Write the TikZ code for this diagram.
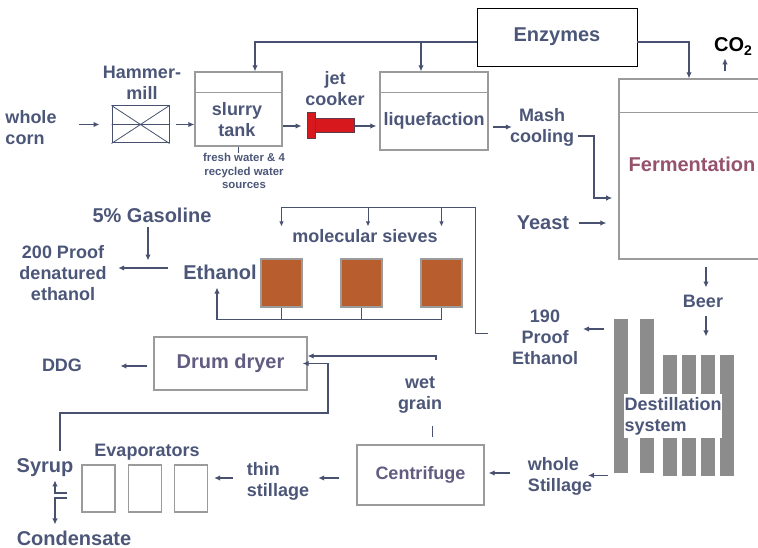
\documentclass[tikz,border=0pt]{standalone}
\usepackage{fontspec}
\setmainfont{Liberation Sans}
\usetikzlibrary{arrows.meta, positioning, calc}
\definecolor{flowblue}{RGB}{72, 82, 112}
\definecolor{textblue}{RGB}{76, 86, 120}
\definecolor{textmauve}{RGB}{98, 92, 128}
\definecolor{fermred}{RGB}{150, 82, 108}
\definecolor{sievebrown}{RGB}{184, 94, 46}
\definecolor{jetred}{RGB}{215, 25, 30}
\definecolor{jetedge}{RGB}{95, 60, 75}
\definecolor{colgray}{RGB}{140, 140, 140}
\definecolor{boxgray}{RGB}{155, 155, 155}

\tikzset{
  lbl/.style={text=textblue, font=\fontsize{18}{21}\selectfont\bfseries, align=center, inner sep=0pt},
  biglbl/.style={lbl, font=\fontsize{20}{24}\selectfont\bfseries},
  note/.style={lbl, font=\fontsize{11.4}{13.5}\selectfont\bfseries},
  flow/.style={draw=flowblue, line width=1.5pt, -{Latex[length=6pt,width=5.5pt]}},
  thinflow/.style={draw=flowblue, line width=0.9pt, -{Latex[length=5pt,width=4.5pt]}},
  thinline/.style={draw=flowblue, line width=0.9pt},
  tank/.style={draw=boxgray, line width=1.3pt, fill=white, inner sep=0pt},
  divider/.style={draw=boxgray, line width=1.3pt},
  column/.style={fill=colgray, minimum width=14pt, inner sep=0pt, anchor=north west},
  sieve/.style={fill=sievebrown, draw=boxgray, line width=1.2pt, minimum width=41pt, minimum height=48pt},
  jetpart/.style={fill=jetred, draw=jetedge, line width=1pt, inner sep=0pt}
}

\begin{document}
\begin{tikzpicture}[x=1pt, y=-1pt]
  \useasboundingbox (0,0) rectangle (758,548);

  % 原料与粉碎
  \node[lbl, align=left] (corn) at (31,128) {whole\\corn};
  \node[lbl] (millTxt) at (142,83) {Hammer-\\mill};
  \node[draw=flowblue, line width=1pt, minimum width=57pt, minimum height=37pt, inner sep=0pt] (mill) at (140.5,124.5) {};
  \draw[flowblue, line width=0.8pt] (mill.north west) -- (mill.south east)
    (mill.south west) -- (mill.north east) (mill.west) -- (mill.east);

  % 浆料罐
  \node[tank, minimum width=87pt, minimum height=74pt] (slurry) at (238.5,109) {};
  \draw[divider] ($(slurry.north west)+(0,21)$) -- ($(slurry.north east)+(0,21)$);
  \node[lbl] (slurryTxt) at (237,120) {slurry\\tank};
  \node[note] (water) at (244,171) {fresh water \& 4\\recycled water\\sources};
  \draw[thinline] (slurry.south) -- ++(0,6);

  % 喷射蒸煮器
  \node[jetpart, minimum width=39pt, minimum height=14pt] (jetB) at (334.5,126) {};
  \node[jetpart, minimum width=8pt, minimum height=26pt] (jetA) at (311,126) {};
  \node[lbl] (jetTxt) at (335,89) {jet\\cooker};

  % 液化
  \node[tank, minimum width=108pt, minimum height=78pt] (liq) at (434,111) {};
  \draw[divider] ($(liq.north west)+(0,21)$) -- ($(liq.north east)+(0,21)$);
  \node[lbl] (liqTxt) at (434,121) {liquefaction};
  \node[lbl] (mash) at (542,127) {Mash\\cooling};

  % 酶
  \node[draw=black, line width=0.8pt, minimum width=160pt, minimum height=58pt, biglbl] (enz) at (557,37) {Enzymes};

  % 发酵
  \node[tank, minimum width=181pt, minimum height=180pt] (ferm) at (709.5,169) {};
  \draw[divider] ($(ferm.north west)+(0,34)$) -- ($(ferm.north east)+(0,34)$);
  \node[biglbl, text=fermred] (fermTxt) at (692,164) {Fermentation};
  \node[biglbl, text=black, anchor=base west] (co2) at (714,52) {CO\textsubscript{2}};
  \node[biglbl] (yeast) at (543,223) {Yeast};
  \node[lbl] (beer) at (703,301) {Beer};

  % 蒸馏塔
  \foreach \i/\xa/\ya/\h in {1/614/319/154, 2/640/319/154, 3/663/355/121, 4/682/355/121, 5/701/355/121, 6/720/355/121}
    \node[column, minimum height=\h pt] (c\i) at (\xa,\ya) {};
  \node[lbl, fill=white, align=left, text width=97pt, inner sep=0.5pt, minimum height=44pt] (dest) at (673,416) {Destillation\\system};
  \node[lbl] (proof) at (545,337) {190\\Proof\\Ethanol};
  \node[lbl, align=left] (still) at (560,476) {whole\\Stillage};

  % 离心与干燥
  \node[tank, minimum width=127pt, minimum height=60pt, lbl, text=textmauve] (cent) at (420.5,475) {Centrifuge};
  \node[lbl] (wet) at (420,395) {wet\\grain};
  \node[tank, minimum width=153pt, minimum height=53pt, biglbl, text=textmauve] (dryer) at (230.5,363.5) {Drum dryer};
  \node[lbl] (ddg) at (62,365) {DDG};

  % 蒸发器
  \foreach \i/\x in {1/98.5, 2/145, 3/191}
    \node[tank, minimum width=33pt, minimum height=47pt] (ev\i) at (\x,488.5) {};
  \node[lbl] (evapTxt) at (147,452) {Evaporators};
  \node[lbl, align=left] (thin) at (278,481) {thin\\stillage};
  \node[biglbl, anchor=base] (syrup) at (45,472) {Syrup};
  \node[biglbl] (cond) at (74,538) {Condensate};

  % 分子筛
  \node[biglbl] (gas) at (152,215) {5\% Gasoline};
  \node[lbl] (denat) at (63,273) {200 Proof\\denatured\\ethanol};
  \node[biglbl] (eth) at (220,272) {Ethanol};
  \foreach \i/\x in {1/281.5, 2/361.5, 3/441.5}
    \node[sieve] (s\i) at (\x,283) {};
  \node[lbl] (sieveTxt) at (365,236) {molecular sieves};

  % 主流程
  \draw[flow, shorten <=22pt, shorten >=12pt] (corn.east |- mill) -- (mill.west);
  \draw[flow, shorten <=6pt] (mill.east) -- (mill.east -| slurry.west);
  \draw[flow, shorten >=5pt] (slurry.east |- jetA) -- (jetA.west);
  \draw[flow, shorten >=3pt] (jetB.east) -- (jetB.east -| liq.west);
  \draw[flow, shorten <=4pt, shorten >=-2pt] (liq.east |- mash) -- (mash.west);
  \draw[flow] ([xshift=4pt,yshift=-9pt]mash.east) -- ++(16,0) -- ++(0,62) -- ++(18,0);
  \draw[flow, shorten <=10pt, shorten >=12pt] (yeast.east) -- (yeast.east -| ferm.west);

  % 酶的加入
  \coordinate (ez) at ([yshift=-5pt]enz.west);
  \draw[flow] (ez) -| ([xshift=16.5pt]slurry.north);
  \draw[flow] (ez) -| ([xshift=-13pt]liq.north);
  \draw[flow] ([yshift=-5pt]enz.east) -| ([xshift=-20.5pt]ferm.north);
  \draw[flow] ([xshift=15.5pt,yshift=7pt]ferm.north) -- ++(0,-13);

  % 啤酒与蒸馏
  \draw[flow] ([xshift=3pt,yshift=-7pt]beer.north |- ferm.south) -- ([xshift=3pt,yshift=7pt]beer.north);
  \draw[flow] ([xshift=3pt,yshift=-9pt]beer.south) -- ++(0,20);
  \draw[flow] ([xshift=-10pt,yshift=-10pt]c1.north west) -- ++(-21,0);
  \draw[flow] ([xshift=-6pt,yshift=-2pt]c1.south west) -- ++(-20,0);
  \draw[flow, shorten <=18pt, shorten >=4pt] ([yshift=3pt]still.west) -- ([yshift=3pt]still.west -| cent.east);
  \draw[flow, shorten <=17pt, shorten >=9pt] ([yshift=-3pt]cent.west) -- ([yshift=-3pt]cent.west -| thin.east);
  \draw[flow, shorten <=14pt, shorten >=6pt] ([yshift=3pt]thin.west) -- ([yshift=3pt]thin.west -| ev3.east);

  % 湿糟与糖浆
  \draw[thinline] ([xshift=11.5pt,yshift=7pt]cent.north) -- ++(0,-11);
  \coordinate (wg) at (436,360);
  \draw[flow] (wg) |- ([yshift=7.5pt]dryer.east);
  \draw[flow, shorten >=-5pt] ([xshift=15pt,yshift=7pt]syrup.north) -- ++(0,-38) -- ++(268,0) |- (dryer.east);
  \draw[flow] ([xshift=-6pt,yshift=-2.5pt]dryer.west) -- ++(-27,0);
  \draw[flow, shorten >=4pt] ([xshift=-14pt,yshift=-4.5pt]ev1.west) -| ([xshift=10pt]syrup.south);
  \draw[flow, shorten >=6pt] ([xshift=-14pt,yshift=-9.5pt]ev1.west) -| ([xshift=-19pt]cond.north);

  % 乙醇脱水
  \draw[flow] ([xshift=-4pt,yshift=-4pt]gas.south) -- ++(0,34);
  \draw[flow, shorten <=15pt, shorten >=11.5pt] ([yshift=4pt]eth.west) -- ([yshift=4pt]eth.west -| denat.east);
  \draw[thinline] (s1.south) -- ++(0,12) (s2.south) -- ++(0,12);
  \draw[flow, shorten >=8pt] (s3.south) -- ++(0,12) -| ([xshift=-3pt]eth.south);
  \coordinate (sTop) at (475,207);
  \draw[thinline] (s1.north |- sTop) -- (sTop) -- (sTop |- 0,333) -- ++(13,0);
  \foreach \s/\d in {s1/0pt, s2/6.5pt, s3/0pt}
    \draw[thinflow, shorten >=32pt] ([xshift=\d]\s.north |- sTop) -- ([xshift=\d]\s.north);

\end{tikzpicture}
\end{document}
